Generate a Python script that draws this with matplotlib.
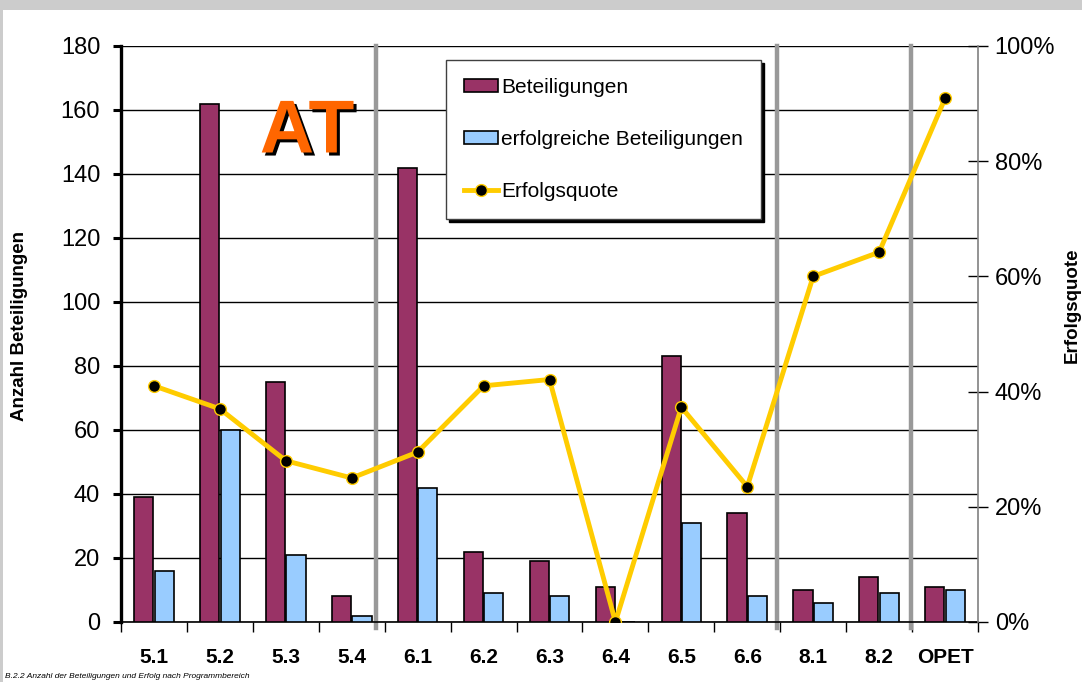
import numpy as np
import matplotlib
matplotlib.use("Agg")
import matplotlib.pyplot as plt
import matplotlib.patheffects as pe
from matplotlib.patches import Rectangle
from matplotlib.ticker import FixedLocator, PercentFormatter

plt.rcParams['font.family'] = ['Liberation Sans', 'DejaVu Sans']

# data
bereiche = ['5.1', '5.2', '5.3', '5.4', '6.1', '6.2', '6.3', '6.4', '6.5', '6.6', '8.1', '8.2', 'OPET']
beteiligungen = [39, 162, 75, 8, 142, 22, 19, 11, 83, 34, 10, 14, 11]
erfolgreich = [16, 60, 21, 2, 42, 9, 8, 0, 31, 8, 6, 9, 10]
erfolgsquote = [41.0, 37.0, 28.0, 25.0, 29.5, 41.0, 42.1, 0.0, 37.3, 23.5, 60.0, 64.2, 90.9]
trenner = [3.37, 9.45, 11.49]  # gray separators between programme groups

maroon = '#993366'
hellblau = '#99CCFF'
gelb = '#FFCC00'

fig = plt.figure(figsize=(10.82, 6.82), dpi=100, facecolor='#CCCCCC')
fig.patches.append(Rectangle((3 / 1082, 0), 1, 1 - 10 / 682, transform=fig.transFigure,
                             facecolor='white', edgecolor='none', zorder=-10))

ax = fig.add_axes([121 / 1082, 1 - 622 / 682, (978 - 121) / 1082, (622 - 46) / 682])
ax.set_facecolor('none')
x = np.arange(len(bereiche))
w = 0.29
b1 = ax.bar(x - 0.155, beteiligungen, w, color=maroon, edgecolor='black', linewidth=1.2,
            zorder=3, label='Beteiligungen')
b2 = ax.bar(x + 0.155, erfolgreich, w, color=hellblau, edgecolor='black', linewidth=1.2,
            zorder=3, label='erfolgreiche Beteiligungen')

ax.set_xlim(-0.5, len(bereiche) - 0.5)
ax.set_ylim(0, 180)
ax.set_yticks(np.arange(0, 181, 20))
ax.yaxis.grid(True, color='black', linewidth=1)
ax.set_axisbelow(True)
for s in trenner:
    ax.axvline(s, ymin=-0.01, ymax=1, color='#999999', linewidth=3.2, zorder=2, clip_on=False)

ax.spines['top'].set_visible(False)
ax.spines['right'].set_visible(False)
ax.spines['left'].set_linewidth(2.4)
ax.spines['bottom'].set_linewidth(1.2)
ax.tick_params(axis='y', direction='out', length=6, width=2.2, pad=9, labelsize=17)

ax.set_xticks(x)
ax.set_xticklabels(bereiche, fontweight='bold', fontsize=15)
ax.xaxis.set_minor_locator(FixedLocator(np.arange(-0.5, len(bereiche), 1)))
ax.tick_params(axis='x', which='major', length=0, pad=19)
ax.tick_params(axis='x', which='minor', direction='out', length=7, width=1)

ax2 = ax.twinx()
ax2.set_ylim(0, 100)
ax2.set_yticks(np.arange(0, 101, 20))
ax2.yaxis.set_major_formatter(PercentFormatter(decimals=0))
ln, = ax2.plot(x, erfolgsquote, color=gelb, linewidth=3.5, marker='o', markersize=8.5,
               markerfacecolor='black', markeredgecolor=gelb, markeredgewidth=1,
               label='Erfolgsquote', zorder=5)
for s in ['top', 'left', 'bottom']:
    ax2.spines[s].set_visible(False)
ax2.spines['right'].set_color('#808080')
ax2.spines['right'].set_linewidth(1.2)
ax2.tick_params(axis='y', direction='inout', length=14, width=1, pad=5, labelsize=17)

# axis titles
fig.text(20 / 1082, 1 - 326 / 682, 'Anzahl Beteiligungen', rotation=90, ha='center', va='center',
         fontweight='bold', fontsize=13.5)
fig.text(1072 / 1082, 1 - 305 / 682, 'Erfolgsquote', rotation=90, ha='center', va='center',
         fontweight='bold', fontsize=13.5)

at = fig.text(307 / 1082, 1 - 133 / 682, 'AT', fontsize=54, fontweight='bold', color='#FF6600',
              ha='center', va='center', zorder=6)
at.set_path_effects([pe.withSimplePatchShadow(offset=(2.2, -2.2), shadow_rgbFace='black', alpha=1)])

leg = fig.legend([b1, b2, ln], ['Beteiligungen', 'erfolgreiche Beteiligungen', 'Erfolgsquote'],
                 loc='upper left', bbox_to_anchor=(446 / 1082, 1 - 60 / 682),
                 fontsize=15, frameon=True, fancybox=False, labelspacing=1.6,
                 handlelength=1.65, handleheight=0.6, handletextpad=0.15,
                 borderpad=0.85, borderaxespad=0,
                 shadow={'color': 'black', 'alpha': 1})
leg.get_frame().set_edgecolor('#404040')
leg.get_frame().set_linewidth(1)

fig.text(5 / 1082, 1 - 677 / 682, 'B.2.2 Anzahl der Beteiligungen und Erfolg nach Programmbereich',
         fontsize=6, fontstyle='italic', va='center', ha='left')

fig.savefig('out.png', dpi=100, facecolor=fig.get_facecolor())
